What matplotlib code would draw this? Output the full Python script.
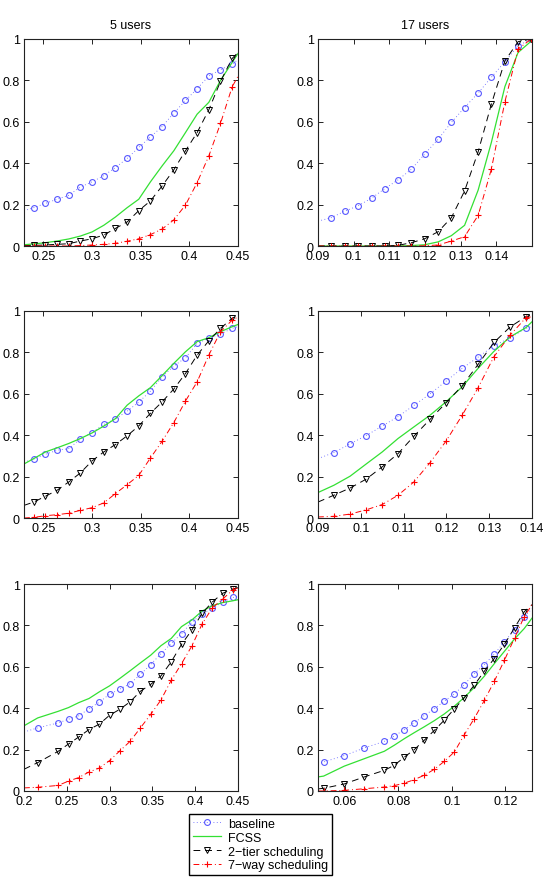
import matplotlib
matplotlib.use("Agg")
import matplotlib.pyplot as plt

plt.rcParams['font.family'] = ['Liberation Sans', 'DejaVu Sans']

# --- data (first / last x entries are the axis edges) ---

# row 1, 5 users
x_1 = [0.23, 0.240, 0.252, 0.264, 0.276, 0.288, 0.300, 0.312, 0.324, 0.336, 0.348,
       0.360, 0.372, 0.384, 0.396, 0.408, 0.420, 0.432, 0.444, 0.45]
base_1 = [0.17, 0.185, 0.206, 0.226, 0.245, 0.285, 0.31, 0.34, 0.379, 0.423, 0.476,
          0.527, 0.577, 0.642, 0.703, 0.76, 0.821, 0.852, 0.879, 0.9]
fcss_1 = [0.006, 0.01, 0.016, 0.024, 0.034, 0.048, 0.068, 0.1, 0.14, 0.185, 0.226,
          0.31, 0.387, 0.46, 0.548, 0.637, 0.694, 0.8, 0.887, 0.93]
tier_1 = [0.002, 0.003, 0.005, 0.008, 0.011, 0.024, 0.035, 0.053, 0.085, 0.116, 0.171,
          0.218, 0.29, 0.368, 0.46, 0.548, 0.658, 0.795, 0.906, 0.935]
way_1 = [0.0, 0.0, 0.0, 0.0, 0.0, 0.002, 0.005, 0.008, 0.013, 0.023, 0.035,
         0.055, 0.082, 0.126, 0.198, 0.306, 0.435, 0.592, 0.769, 0.82]

# row 1, 17 users
x_2 = [0.09, 0.0937, 0.0975, 0.1012, 0.1050, 0.1087, 0.1124, 0.1162, 0.1199, 0.1237,
       0.1274, 0.1311, 0.1349, 0.1386, 0.1424, 0.1461, 0.1498]
base_2 = [0.12, 0.137, 0.168, 0.194, 0.231, 0.277, 0.319, 0.371, 0.444, 0.516,
          0.597, 0.669, 0.739, 0.815, 0.89, 0.968, 1.0]
fcss_2 = [0.0, 0.0, 0.0, 0.0, 0.0, 0.0, 0.0, 0.002, 0.006, 0.02,
          0.05, 0.1, 0.27, 0.5, 0.77, 0.935, 0.99]
tier_2 = [0.0, 0.0, 0.0, 0.0, 0.0, 0.0, 0.003, 0.016, 0.035, 0.069,
          0.137, 0.266, 0.455, 0.685, 0.894, 0.987, 1.0]
way_2 = [0.0, 0.0, 0.0, 0.0, 0.0, 0.0, 0.0, 0.0, 0.001, 0.005,
         0.024, 0.045, 0.148, 0.371, 0.697, 0.952, 1.0]

# row 2, left
x_3 = x_1
base_3 = [0.27, 0.284, 0.308, 0.327, 0.335, 0.382, 0.413, 0.452, 0.479, 0.516, 0.56,
          0.613, 0.682, 0.734, 0.774, 0.844, 0.869, 0.889, 0.916, 0.925]
fcss_3 = [0.261, 0.287, 0.319, 0.339, 0.36, 0.384, 0.411, 0.444, 0.48, 0.545, 0.59,
          0.63, 0.688, 0.747, 0.803, 0.852, 0.871, 0.9, 0.924, 0.935]
tier_3 = [0.061, 0.077, 0.105, 0.134, 0.174, 0.218, 0.276, 0.319, 0.355, 0.397, 0.445,
          0.506, 0.561, 0.623, 0.698, 0.787, 0.856, 0.916, 0.965, 0.98]
way_3 = [0.0, 0.003, 0.011, 0.016, 0.023, 0.037, 0.05, 0.073, 0.118, 0.161, 0.206,
         0.29, 0.371, 0.461, 0.565, 0.658, 0.787, 0.9, 0.956, 0.971]

# row 2, right
x_4 = [0.09, 0.0937, 0.0975, 0.1012, 0.1050, 0.1087, 0.1124, 0.1162, 0.1199, 0.1237,
       0.1274, 0.1311, 0.1349, 0.1386, 0.14]
base_4 = [0.287, 0.316, 0.358, 0.398, 0.444, 0.49, 0.544, 0.6, 0.661, 0.723,
          0.777, 0.832, 0.871, 0.916, 0.925]
fcss_4 = [0.123, 0.158, 0.202, 0.26, 0.319, 0.384, 0.44, 0.497, 0.561, 0.634,
          0.723, 0.805, 0.875, 0.92, 0.948]
tier_4 = [0.077, 0.11, 0.145, 0.187, 0.247, 0.311, 0.395, 0.477, 0.556, 0.639,
          0.742, 0.848, 0.923, 0.973, 0.98]
way_4 = [0.005, 0.008, 0.019, 0.039, 0.065, 0.11, 0.174, 0.268, 0.371, 0.497,
         0.629, 0.779, 0.884, 0.968, 0.972]

# row 3, left
x_5 = [0.2, 0.216, 0.240, 0.252, 0.264, 0.276, 0.288, 0.300, 0.312, 0.324, 0.336,
       0.348, 0.360, 0.372, 0.384, 0.396, 0.408, 0.420, 0.432, 0.444, 0.45]
base_5 = [0.285, 0.305, 0.329, 0.347, 0.363, 0.398, 0.429, 0.468, 0.492, 0.519, 0.563,
          0.611, 0.663, 0.713, 0.76, 0.815, 0.856, 0.882, 0.913, 0.935, 0.94]
fcss_5 = [0.315, 0.353, 0.385, 0.403, 0.427, 0.447, 0.479, 0.508, 0.544, 0.581, 0.619,
          0.656, 0.702, 0.737, 0.794, 0.826, 0.869, 0.895, 0.91, 0.919, 0.924]
tier_5 = [0.105, 0.137, 0.192, 0.227, 0.261, 0.297, 0.323, 0.366, 0.395, 0.431, 0.482,
          0.515, 0.556, 0.624, 0.708, 0.777, 0.858, 0.913, 0.955, 0.976, 0.982]
way_5 = [0.015, 0.018, 0.027, 0.048, 0.065, 0.092, 0.111, 0.147, 0.194, 0.24, 0.305,
         0.37, 0.44, 0.535, 0.615, 0.7, 0.806, 0.885, 0.927, 0.971, 0.982]

# row 3, right
x_6 = [0.05, 0.0521, 0.0598, 0.0673, 0.0748, 0.0785, 0.0823, 0.0860, 0.0897, 0.0935,
       0.0972, 0.1010, 0.1047, 0.1084, 0.1122, 0.1159, 0.1197, 0.1235, 0.1271, 0.13]
base_6 = [0.13, 0.14, 0.171, 0.208, 0.24, 0.265, 0.297, 0.33, 0.364, 0.398,
          0.434, 0.469, 0.514, 0.567, 0.611, 0.661, 0.721, 0.78, 0.842, 0.88]
fcss_6 = [0.068, 0.072, 0.12, 0.156, 0.192, 0.221, 0.253, 0.282, 0.31, 0.34,
          0.372, 0.41, 0.452, 0.5, 0.555, 0.615, 0.675, 0.735, 0.785, 0.835]
tier_6 = [0.01, 0.013, 0.034, 0.068, 0.1, 0.124, 0.164, 0.2, 0.245, 0.293,
          0.342, 0.397, 0.451, 0.511, 0.579, 0.64, 0.709, 0.789, 0.866, 0.9]
way_6 = [0.0, 0.0, 0.003, 0.011, 0.019, 0.026, 0.038, 0.055, 0.076, 0.105,
         0.143, 0.189, 0.272, 0.35, 0.438, 0.53, 0.632, 0.74, 0.842, 0.9]

titles = ["5 users", "17 users", "", "", "", ""]
xticks_all = [[0.25, 0.3, 0.35, 0.4, 0.45],
              [0.09, 0.1, 0.11, 0.12, 0.13, 0.14],
              [0.25, 0.3, 0.35, 0.4, 0.45],
              [0.09, 0.1, 0.11, 0.12, 0.13, 0.14],
              [0.2, 0.25, 0.3, 0.35, 0.4, 0.45],
              [0.06, 0.08, 0.1, 0.12]]
legend_labels = ["baseline", "FCSS", "2\u2212tier scheduling", "7\u2212way scheduling"]

panels = [(x_1, base_1, fcss_1, tier_1, way_1, slice(1, -1)),
          (x_2, base_2, fcss_2, tier_2, way_2, slice(1, None)),
          (x_3, base_3, fcss_3, tier_3, way_3, slice(1, -1)),
          (x_4, base_4, fcss_4, tier_4, way_4, slice(1, -1)),
          (x_5, base_5, fcss_5, tier_5, way_5, slice(1, -1)),
          (x_6, base_6, fcss_6, tier_6, way_6, slice(1, -1))]

BLUE = "#4646ff"
GREEN = "#33e033"

fig = plt.figure(figsize=(5.43, 8.78), dpi=100)
lefts = [24 / 543, 318 / 543]
bottoms = [1 - 247 / 878, 1 - 519 / 878, 1 - 792 / 878]
w, h = 214 / 543, 207 / 878

handles = None
for i, (x, base, fcss, tier, way, marks) in enumerate(panels):
    ax = fig.add_axes([lefts[i % 2], bottoms[i // 2], w, h])
    l1, = ax.plot(x, base, color=BLUE, lw=0.6, dashes=(1, 3), marker="o", ms=4.2,
                  mfc="none", mew=0.8, markevery=marks, alpha=0.9)
    l2, = ax.plot(x, fcss, "-", color=GREEN, lw=0.9)
    l3, = ax.plot(x, tier, color="k", lw=0.7, dashes=(7, 5), marker="v", ms=4,
                  mfc="none", mew=0.7, markevery=marks)
    l4, = ax.plot(x, way, color="r", lw=0.7, dashes=(6, 3, 1, 3), marker="+", ms=4,
                  mew=0.8, markevery=marks)
    handles = [l1, l2, l3, l4]

    ax.set_xlim(x[0], x[-1] if i != 1 else 0.15)
    ax.set_ylim(0, 1)
    ax.set_xticks(xticks_all[i])
    ax.set_xticklabels([f"{v:g}" for v in xticks_all[i]])
    ax.set_yticks([0, 0.2, 0.4, 0.6, 0.8, 1])
    ax.set_yticklabels(["0", "0.2", "0.4", "0.6", "0.8", "1"])
    ax.tick_params(direction="in", top=True, right=True, length=3.5, width=0.6,
                   labelsize=9, pad=3)
    for s in ax.spines.values():
        s.set_linewidth(0.8)
        s.set_color("#222222")
    if titles[i]:
        ax.set_title(titles[i], fontsize=9, pad=8)

fig.legend(handles, legend_labels, loc="lower center", bbox_to_anchor=(0.48, 0.002),
           fontsize=9, frameon=True, fancybox=False, edgecolor="k", framealpha=1,
           handlelength=2.2, handletextpad=0.6, borderpad=0.3, labelspacing=0.15,
           borderaxespad=0)

fig.savefig("out.png", dpi=100)
